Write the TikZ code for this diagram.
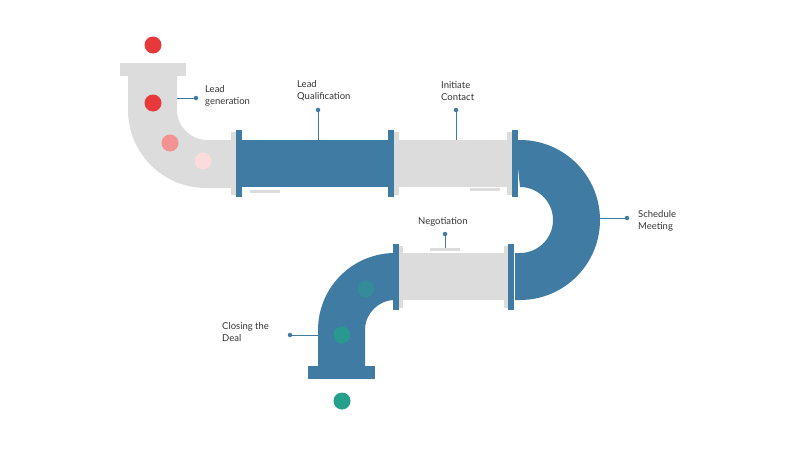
\documentclass[tikz,border=0pt]{standalone}
\usepackage{fontspec}
\setmainfont{Lato}
\definecolor{pblue}{HTML}{3F7BA2}
\definecolor{pgray}{HTML}{DCDCDC}
\definecolor{pred}{HTML}{E8393A}
\definecolor{pgreen}{HTML}{25A08B}
\definecolor{ptext}{HTML}{333333}
\begin{document}
\begin{tikzpicture}[x=1pt,y=-1pt,
  lbl/.style={font=\fontsize{9.5}{12}\selectfont,text=ptext,align=left,anchor=west,inner sep=0pt},
  pin/.style={circle,fill=pblue,inner sep=0pt,minimum size=4.5pt},
  lead/.style={draw=pblue,line width=0.8pt}]
\useasboundingbox (0,0) rectangle (800,450);
% top-left gray elbow
\fill[pgray] (120,63) rectangle (186,76);
\fill[pgray] (128,76) -- (128,110) arc[start angle=180,end angle=90,radius=78] -- (240,188) -- (240,140) -- (207,140) arc[start angle=90,end angle=180,radius=30] -- (177,76) -- cycle;
\fill[pgray] (231,132) rectangle (236,195);
% blue straight
\fill[pblue] (240,140) rectangle (390,187);
\fill[pblue] (236,130) rectangle (242,197);
\fill[pblue] (388,130) rectangle (394,197);
\fill[pgray] (250,190) rectangle (280,192.5);
% gray straight
\fill[pgray] (394,140) rectangle (515,187);
\fill[pgray] (394,132) rectangle (399,195);
\fill[pgray] (507,132) rectangle (512,195);
\fill[pgray] (470,188) rectangle (500,191);
% U bend
\fill[pblue] (515,140) -- (520,140) arc[start angle=270,end angle=450,radius=80] -- (515,300) -- (515,253) -- (520,253) arc[start angle=90,end angle=-90,radius=33] -- cycle;
\fill[pblue] (512,130) rectangle (518,197);
% lower gray
\fill[pgray] (397,253) rectangle (512,300);
\fill[pgray] (399,246) rectangle (403,308);
\fill[pgray] (504,246) rectangle (508,308);
\fill[pgray] (430,248) rectangle (460,251);
\fill[pblue] (508,244) rectangle (514,310);
% bottom-left blue elbow
\fill[pblue] (396,253) -- (395,253) arc[start angle=270,end angle=180,radius=77] -- (318,366) -- (365,366) -- (365,330) arc[start angle=180,end angle=270,radius=30] -- (396,300) -- cycle;
\fill[pblue] (308,366) rectangle (375,379);
\fill[pblue] (393,244) rectangle (399,310);
% dots
\fill[pred] (153,45) circle (8.5);
\fill[pred] (153,103) circle (8.5);
\fill[pred!55!white] (170,143) circle (8.5);
\fill[pred!18!white] (203,161) circle (8.5);
\fill[pgreen!45!pblue] (366,289) circle (8.5);
\fill[pgreen!80!pblue] (342,335) circle (8.5);
\fill[pgreen] (342,401) circle (8.5);
% labels
\node[pin] (p1) at (196,98) {};
\coordinate (e1) at (177,98);
\draw[lead] (e1) -- (p1);
\node[lbl] (t1) at (205,96) {Lead\\generation};
\node[pin] (p2) at (318,110) {};
\coordinate (e2) at (318,140);
\draw[lead] (p2) -- (e2);
\node[lbl] (t2) at (297,91) {Lead\\Qualification};
\node[pin] (p3) at (456,110) {};
\coordinate (e3) at (456,140);
\draw[lead] (p3) -- (e3);
\node[lbl] (t3) at (441,91) {Initiate\\Contact};
\node[pin] (p4) at (445,234) {};
\coordinate (e4) at (445,248);
\draw[lead] (p4) -- (e4);
\node[lbl] (t4) at (418,222) {Negotiation};
\node[pin] (p5) at (627,218) {};
\coordinate (e5) at (600,218);
\draw[lead] (e5) -- (p5);
\node[lbl] (t5) at (638,221) {Schedule\\Meeting};
\node[pin] (p6) at (290,335) {};
\coordinate (e6) at (318,335);
\draw[lead] (p6) -- (e6);
\node[lbl] (t6) at (222,332) {Closing the\\Deal};
\end{tikzpicture}
\end{document}
